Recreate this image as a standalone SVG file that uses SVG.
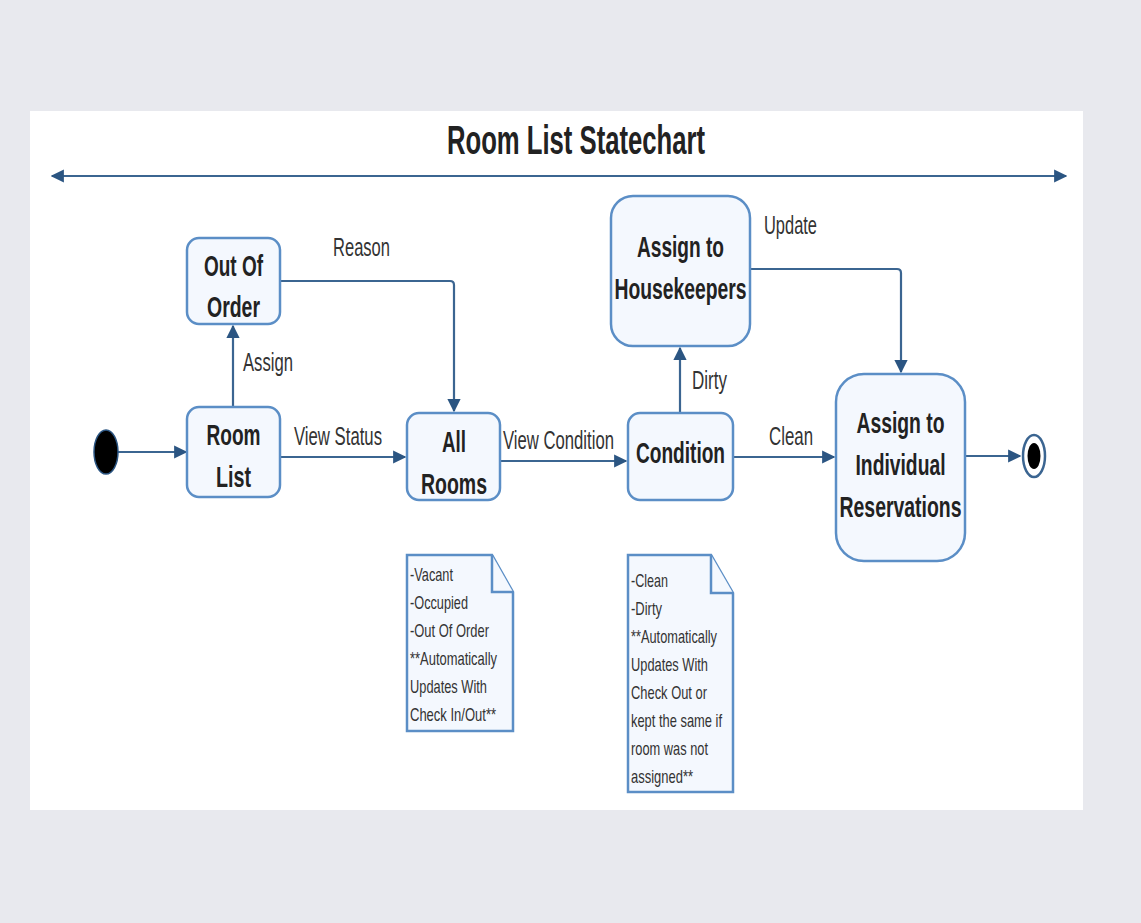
<svg xmlns="http://www.w3.org/2000/svg" width="1141" height="923" viewBox="0 0 1141 923">
<style>
.node{fill:#f4f8fe;stroke:#5b8ec6;stroke-width:2.5}
.nt{font-family:"Liberation Sans",Arial,sans-serif;font-weight:bold;font-size:29px;fill:#222;text-anchor:middle}
.lbl{font-family:"Liberation Sans",Arial,sans-serif;font-size:25px;fill:#333}
.note{fill:#f4f8fe;stroke:#5b8ec6;stroke-width:2.5;stroke-linejoin:miter}
.nx{font-family:"Liberation Sans",Arial,sans-serif;font-size:19px;fill:#333}
.edge{fill:none;stroke:#3b6591;stroke-width:2.2}
</style>
<defs>
<marker id="ah" viewBox="0 0 10 10" refX="9" refY="5" markerWidth="6" markerHeight="6" markerUnits="strokeWidth" orient="auto-start-reverse">
<path d="M0,0 L10,5 L0,10 z" fill="#2b5582"/>
</marker>
</defs>
<rect x="0" y="0" width="1141" height="923" fill="#e8e9ee"/>
<rect x="30" y="111" width="1053" height="699" fill="#ffffff"/>
<text x="576" y="154" font-family="'Liberation Sans',Arial,sans-serif" font-weight="bold" font-size="40" fill="#222" text-anchor="middle" textLength="258" lengthAdjust="spacingAndGlyphs">Room List Statechart</text>
<g id="connectors">
<line class="edge" x1="52" y1="176" x2="1066" y2="176" marker-start="url(#ah)" marker-end="url(#ah)"/>
<line class="edge" x1="118" y1="452" x2="186" y2="452" marker-end="url(#ah)"/>
<line class="edge" x1="233" y1="407" x2="233" y2="326" marker-end="url(#ah)"/>
<path class="edge" d="M280,281 H450 Q454,281 454,285 V411" marker-end="url(#ah)"/>
<line class="edge" x1="280" y1="457" x2="405" y2="457" marker-end="url(#ah)"/>
<line class="edge" x1="500" y1="461" x2="626" y2="461" marker-end="url(#ah)"/>
<line class="edge" x1="680" y1="413" x2="680" y2="348" marker-end="url(#ah)"/>
<path class="edge" d="M750,269 H897 Q901,269 901,273 V372" marker-end="url(#ah)"/>
<line class="edge" x1="733" y1="457" x2="834" y2="457" marker-end="url(#ah)"/>
<line class="edge" x1="965" y1="456" x2="1020" y2="456" marker-end="url(#ah)"/>
<text class="lbl" x="243" y="371" textLength="50" lengthAdjust="spacingAndGlyphs">Assign</text>
<text class="lbl" x="333" y="256" textLength="57" lengthAdjust="spacingAndGlyphs">Reason</text>
<text class="lbl" x="294" y="445" textLength="88" lengthAdjust="spacingAndGlyphs">View Status</text>
<text class="lbl" transform="translate(503,449) scale(0.666,1)" x="0" y="0" textLength="166.6" lengthAdjust="spacingAndGlyphs">View Condition</text>
<text class="lbl" x="692" y="389" textLength="35" lengthAdjust="spacingAndGlyphs">Dirty</text>
<text class="lbl" x="764" y="234" textLength="53" lengthAdjust="spacingAndGlyphs">Update</text>
<text class="lbl" x="769" y="445" textLength="44" lengthAdjust="spacingAndGlyphs">Clean</text>
</g>
<g id="initial">
<ellipse cx="106" cy="452" rx="12" ry="22" fill="#000" stroke="#2b5582" stroke-width="1.5"/>
</g>
<g id="final">
<ellipse cx="1034" cy="456" rx="11" ry="21" fill="#fff" stroke="#3b6591" stroke-width="2.5"/>
<ellipse cx="1034" cy="456" rx="6.5" ry="13" fill="#000"/>
</g>
<g id="room-list">
<rect class="node" x="187" y="407" width="93" height="90" rx="12"/>
<text class="nt" x="233.5" y="445" textLength="54" lengthAdjust="spacingAndGlyphs">Room</text>
<text class="nt" x="233.5" y="487" textLength="35" lengthAdjust="spacingAndGlyphs">List</text>
</g>
<g id="out-of-order">
<rect class="node" x="187" y="238" width="93" height="86" rx="12"/>
<text class="nt" x="233.5" y="276" textLength="59" lengthAdjust="spacingAndGlyphs">Out Of</text>
<text class="nt" x="233.5" y="317" textLength="53" lengthAdjust="spacingAndGlyphs">Order</text>
</g>
<g id="all-rooms">
<rect class="node" x="407" y="413" width="93" height="87" rx="12"/>
<text class="nt" x="454" y="452" textLength="24" lengthAdjust="spacingAndGlyphs">All</text>
<text class="nt" x="454" y="494" textLength="66" lengthAdjust="spacingAndGlyphs">Rooms</text>
</g>
<g id="condition">
<rect class="node" x="628" y="413" width="105" height="87" rx="12"/>
<text class="nt" x="680.5" y="463" textLength="89" lengthAdjust="spacingAndGlyphs">Condition</text>
</g>
<g id="housekeepers">
<rect class="node" x="611" y="196" width="139" height="150" rx="22"/>
<text class="nt" x="680.5" y="257" textLength="87" lengthAdjust="spacingAndGlyphs">Assign to</text>
<text class="nt" x="680.5" y="299" textLength="132" lengthAdjust="spacingAndGlyphs">Housekeepers</text>
</g>
<g id="individual">
<rect class="node" x="836" y="374" width="129" height="187" rx="28"/>
<text class="nt" x="900.5" y="433" textLength="88" lengthAdjust="spacingAndGlyphs">Assign to</text>
<text class="nt" x="900.5" y="475" textLength="90" lengthAdjust="spacingAndGlyphs">Individual</text>
<text class="nt" x="900.5" y="517" textLength="122" lengthAdjust="spacingAndGlyphs">Reservations</text>
</g>
<g id="note-status">
<path class="note" d="M407,555 H492 L513,592 V731 H407 Z"/>
<path class="note" d="M492,555 V592 H513" fill="none"/>
<text class="nx" x="410" y="581" textLength="43" lengthAdjust="spacingAndGlyphs">-Vacant</text>
<text class="nx" x="410" y="609" textLength="58" lengthAdjust="spacingAndGlyphs">-Occupied</text>
<text class="nx" x="410" y="637" textLength="79" lengthAdjust="spacingAndGlyphs">-Out Of Order</text>
<text class="nx" x="410" y="665" textLength="87" lengthAdjust="spacingAndGlyphs">**Automatically</text>
<text class="nx" x="410" y="693" textLength="77" lengthAdjust="spacingAndGlyphs">Updates With</text>
<text class="nx" x="410" y="721" textLength="86" lengthAdjust="spacingAndGlyphs">Check In/Out**</text>
</g>
<g id="note-condition">
<path class="note" d="M628,555 H711 L733,593 V792 H628 Z"/>
<path class="note" d="M711,555 V593 H733" fill="none"/>
<text class="nx" x="631" y="587" textLength="37" lengthAdjust="spacingAndGlyphs">-Clean</text>
<text class="nx" x="631" y="615" textLength="31" lengthAdjust="spacingAndGlyphs">-Dirty</text>
<text class="nx" x="631" y="643" textLength="86" lengthAdjust="spacingAndGlyphs">**Automatically</text>
<text class="nx" x="631" y="671" textLength="77" lengthAdjust="spacingAndGlyphs">Updates With</text>
<text class="nx" x="631" y="699" textLength="76" lengthAdjust="spacingAndGlyphs">Check Out or</text>
<text class="nx" x="631" y="727" textLength="91" lengthAdjust="spacingAndGlyphs">kept the same if</text>
<text class="nx" x="631" y="755" textLength="77" lengthAdjust="spacingAndGlyphs">room was not</text>
<text class="nx" x="631" y="783" textLength="62" lengthAdjust="spacingAndGlyphs">assigned**</text>
</g>
</svg>
